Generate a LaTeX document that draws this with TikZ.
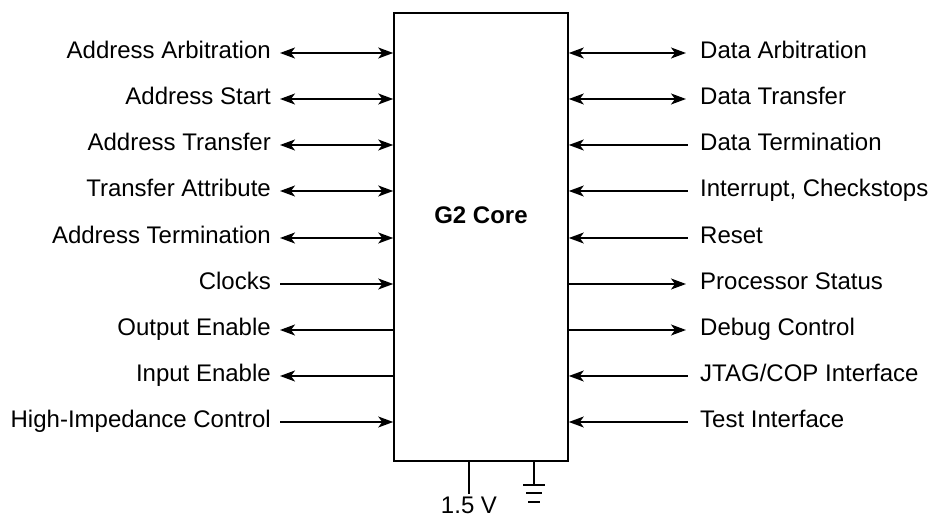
\documentclass[tikz,border=0pt]{standalone}
\usepackage{fontspec}
\setmainfont{Liberation Sans}
\usetikzlibrary{arrows.meta,positioning}

\begin{document}
\begin{tikzpicture}[
  x=1pt, y=-1pt,
  font=\fontsize{24}{27}\selectfont,
  core/.style={draw, line width=1.6pt, minimum width=174pt, minimum height=448pt, inner sep=0pt},
  lsig/.style={anchor=east, inner xsep=9pt, inner ysep=0pt, text height=17pt, text depth=5pt},
  rsig/.style={anchor=west, inner xsep=12pt, inner ysep=0pt, text height=17pt, text depth=5pt},
  arrow/.style={-{Stealth[length=15pt,width=11pt,inset=4pt]}, line width=1.5pt},
  backarrow/.style={{Stealth[length=15pt,width=11pt,inset=4pt]}-, line width=1.5pt},
  both/.style={{Stealth[length=15pt,width=11pt,inset=4pt]}-{Stealth[length=15pt,width=11pt,inset=4pt]}, line width=1.5pt},
  wire/.style={line width=1.5pt}
]
\useasboundingbox (0,0) rectangle (929,518);

\node[core] (core) at (481,237) {};
\node[font=\fontsize{24}{27}\selectfont\bfseries] (title) at (481,215) {G2 Core};

% left side
\node[lsig] (aarb) at (280,53) {Address Arbitration};
\node[lsig] (astart) at (280,99) {Address Start};
\node[lsig] (atrans) at (280,145) {Address Transfer};
\node[lsig] (tattr) at (280,191) {Transfer Attribute};
\node[lsig] (aterm) at (280,238) {Address Termination};
\node[lsig] (clocks) at (280,284) {Clocks};
\node[lsig] (oen) at (280,330) {Output Enable};
\node[lsig] (ien) at (280,376) {Input Enable};
\node[lsig] (hiz) at (280,422) {High-Impedance Control};

% right side
\node[rsig] (darb) at (688,53) {Data Arbitration};
\node[rsig] (dtrans) at (688,99) {Data Transfer};
\node[rsig] (dterm) at (688,145) {Data Termination};
\node[rsig] (intr) at (688,191) {Interrupt, Checkstops};
\node[rsig] (reset) at (688,238) {Reset};
\node[rsig] (pstat) at (688,284) {Processor Status};
\node[rsig] (dbg) at (688,330) {Debug Control};
\node[rsig] (jtag) at (688,376) {JTAG/COP Interface};
\node[rsig] (test) at (688,422) {Test Interface};

% power
\node[inner sep=0pt, text height=17pt, text depth=2pt] (vlab) at (469,506) {1.5 V};
\coordinate (gnd) at (534,461);

\draw[both] (aarb.east) -- (aarb.east -| core.west);
\draw[both] (astart.east) -- (astart.east -| core.west);
\draw[both] (atrans.east) -- (atrans.east -| core.west);
\draw[both] (tattr.east) -- (tattr.east -| core.west);
\draw[both] (aterm.east) -- (aterm.east -| core.west);
\draw[arrow] (clocks.east) -- (clocks.east -| core.west);
\draw[backarrow] (oen.east) -- (oen.east -| core.west);
\draw[backarrow] (ien.east) -- (ien.east -| core.west);
\draw[arrow] (hiz.east) -- (hiz.east -| core.west);

\draw[both, shorten >=2pt] (darb.west -| core.east) -- (darb.west);
\draw[both, shorten >=2pt] (dtrans.west -| core.east) -- (dtrans.west);
\draw[backarrow] (dterm.west -| core.east) -- (dterm.west);
\draw[backarrow] (intr.west -| core.east) -- (intr.west);
\draw[backarrow] (reset.west -| core.east) -- (reset.west);
\draw[arrow, shorten >=2pt] (pstat.west -| core.east) -- (pstat.west);
\draw[arrow, shorten >=2pt] (dbg.west -| core.east) -- (dbg.west);
\draw[backarrow] (jtag.west -| core.east) -- (jtag.west);
\draw[backarrow] (test.west -| core.east) -- (test.west);

\draw[wire] (vlab.north |- core.south) -- ([yshift=2pt]vlab.north);
\draw[wire] (gnd) -- ++(0,24);
\draw[wire] ([shift={(-11,24)}]gnd) -- ++(22,0);
\draw[wire] ([shift={(-8,32)}]gnd) -- ++(16,0);
\draw[wire] ([shift={(-6,41)}]gnd) -- ++(12,0);
\end{tikzpicture}
\end{document}
